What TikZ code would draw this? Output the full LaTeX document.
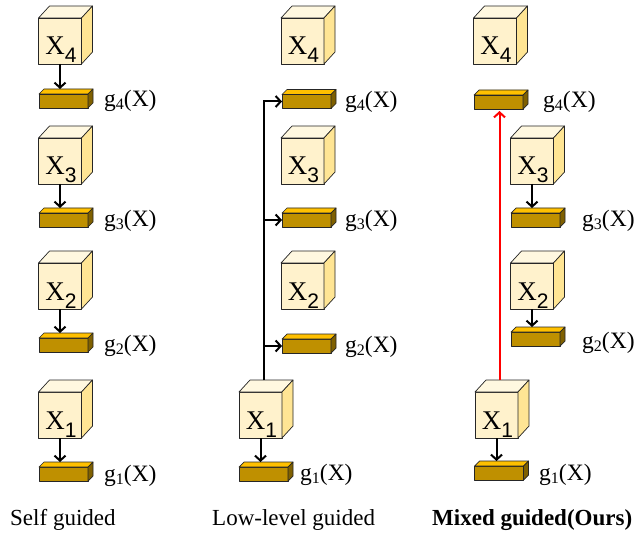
\documentclass[tikz,border=0pt]{standalone}
\usepackage{fontspec}
\setmainfont{Liberation Serif}
\newfontfamily\digitfont{Liberation Sans}
\usetikzlibrary{arrows.meta,calc}

\definecolor{cubefront}{HTML}{FFF2CC}
\definecolor{cubetop}{HTML}{FFF8E0}
\definecolor{cubeside}{HTML}{FFE594}
\definecolor{barfront}{HTML}{BF9000}
\definecolor{bartop}{HTML}{FFC000}
\definecolor{barside}{HTML}{7F6000}

\tikzset{
  edgeline/.style={draw=black!85, line width=0.7pt, line join=round},
  cubeface/.style={edgeline, fill=cubefront, minimum width=43pt, minimum height=46pt,
    inner sep=0pt, outer sep=0pt},
  barface/.style={edgeline, fill=barfront, minimum width=49pt, minimum height=14pt,
    inner sep=0pt, outer sep=0pt},
  flow/.style={line width=2pt, -{Straight Barb[length=5pt,width=11pt,line width=2pt]}},
  redflow/.style={flow, draw=red},
  glabel/.style={anchor=base west, inner sep=0pt, font=\fontsize{23.5}{23.5}\selectfont},
  caption/.style={anchor=base west, inner sep=0pt, font=\fontsize{23}{23}\selectfont},
}

% feature cube: name, centre of front face (x,y), index
\newcommand\drawcube[4]{%
  \node[cubeface] (#1) at (#2,#3) {};
  \path[edgeline, fill=cubetop] (#1.north west) -- ++(11,-12) -- ++(43,0) -- (#1.north east) -- cycle;
  \path[edgeline, fill=cubeside] (#1.north east) -- ++(11,-12) -- ++(0,46) -- (#1.south east) -- cycle;
  \coordinate (#1-top) at ($(#1.north)+(3,-12)$);
  \node[anchor=base, inner sep=0pt] (#1-lbl) at ($(#1.north)+(1,37)$)
    {\fontsize{27}{27}\selectfont X\raisebox{-8pt}{\digitfont\fontsize{21}{21}\selectfont #4}};
}

% guidance bar: name, centre of front face (x,y)
\newcommand\drawbar[3]{%
  \node[barface] (#1) at (#2,#3) {};
  \path[edgeline, fill=bartop] (#1.north west) -- ++(5,-5) -- ++(49,0) -- (#1.north east) -- cycle;
  \path[edgeline, fill=barside] (#1.north east) -- ++(5,-5) -- ++(0,14) -- (#1.south east) -- cycle;
  \coordinate (#1-t) at ($(#1.north)+(2.5,-5)$);
}

% g label: name, baseline start (x,y), index
\newcommand\glab[4]{%
  \node[glabel] (#1) at (#2,#3) {g\raisebox{-3pt}{\fontsize{16}{16}\selectfont #4}(X)};
}

\begin{document}
\begin{tikzpicture}[x=1pt,y=-1pt]
\useasboundingbox (0,0) rectangle (636,534);

% ---------------- self guided ----------------
\drawcube{c14}{60}{41}{4}
\drawbar{b14}{63.5}{101}
\glab{l14}{104}{107}{4}
\drawcube{c13}{60}{161}{3}
\drawbar{b13}{63.5}{220}
\glab{l13}{104}{227}{3}
\drawcube{c12}{60}{286}{2}
\drawbar{b12}{63.5}{345}
\glab{l12}{104}{351}{2}
\drawcube{c11}{60}{415}{1}
\drawbar{b11}{63.5}{474}
\glab{l11}{104}{481}{1}

\foreach \k in {1,2,3,4}
  \draw[flow] (c1\k.south) -- (c1\k.south |- b1\k-t);

% ---------------- low-level guided ----------------
\drawcube{c24}{302.5}{41}{4}
\drawbar{b24}{306.5}{101.5}
\glab{l24}{345}{108}{4}
\drawcube{c23}{302.5}{161}{3}
\drawbar{b23}{306.5}{220}
\glab{l23}{345}{227}{3}
\drawcube{c22}{302.5}{286}{2}
\drawbar{b22}{306.5}{346}
\glab{l22}{345}{352}{2}
\drawcube{c21}{260.5}{415}{1}
\drawbar{b21}{263.5}{474}
\glab{l21}{300}{480}{1}

\draw[flow] (c21.south) -- (c21.south |- b21-t);
\draw[flow] (c21-top) |- (b24.west);
\draw[flow] (c21-top |- b23.west) -- (b23.west);
\draw[flow] (c21-top |- b22.west) -- (b22.west);

% ---------------- mixed guided ----------------
\drawcube{c34}{495}{41}{4}
\drawbar{b34}{498.5}{102}
\glab{l34}{543}{108}{4}
\drawcube{c33}{532}{161}{3}
\drawbar{b33}{535.5}{220}
\glab{l33}{582}{227}{3}
\drawcube{c32}{532}{286}{2}
\drawbar{b32}{535.5}{339}
\glab{l32}{582}{348}{2}
\drawcube{c31}{496.5}{415}{1}
\drawbar{b31}{499}{473}
\glab{l31}{539}{480}{1}

\draw[flow] (c33.south) -- (c33.south |- b33-t);
\draw[flow] (c32.south) -- (c32.south |- b32-t);
\draw[flow] (c31.south) -- (c31.south |- b31-t);
\draw[redflow] (c31-top) -- ($(c31-top |- b34.south)+(0,2)$);

% ---------------- captions ----------------
\node[caption] (cap1) at (10,525) {Self guided};
\node[caption] (cap2) at (212,525) {Low-level guided};
\node[caption] (cap3) at (432,525) {\bfseries Mixed guided(Ours)};
\end{tikzpicture}
\end{document}
